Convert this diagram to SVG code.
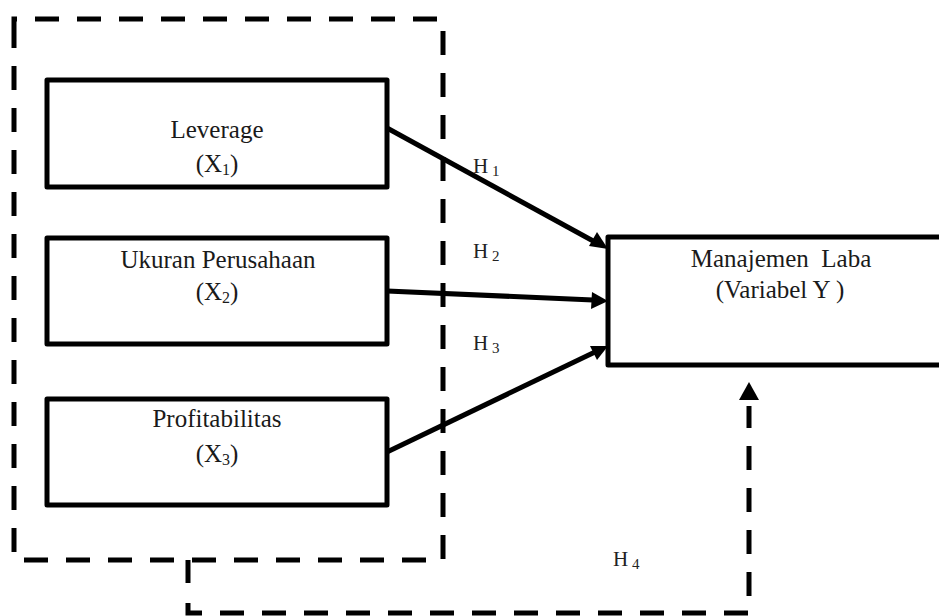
<svg xmlns="http://www.w3.org/2000/svg" width="939" height="616" viewBox="0 0 939 616">
<defs>
<style>
.box{fill:#fff;stroke:#000;stroke-width:5;stroke-linejoin:round}
.dash{fill:none;stroke:#000;stroke-width:5;stroke-dasharray:24 18}
.arr{fill:none;stroke:#000;stroke-width:5}
.t{font-family:"Liberation Serif","Times New Roman",serif;font-size:25px;fill:#1a1a1a;text-anchor:middle;white-space:pre}
.h{font-family:"Liberation Serif","Times New Roman",serif;font-size:21px;fill:#222}
.sub{font-size:16px}
.hs{font-size:15px}
</style>
</defs>
<rect width="939" height="616" fill="#fff"/>
<g id="group-box">
<path class="dash" d="M14,40 V19 H443 V560 H14 Z"/>
</g>
<g id="leverage">
<rect class="box" x="47" y="80" width="340" height="107"/>
<text class="t" x="217" y="138">Leverage</text>
<text class="t" x="217" y="172">(X<tspan class="sub" dy="3">1</tspan><tspan dy="-3">)</tspan></text>
</g>
<g id="ukuran">
<rect class="box" x="47" y="238" width="340" height="106"/>
<text class="t" x="218" y="268">Ukuran Perusahaan</text>
<text class="t" x="217" y="300">(X<tspan class="sub" dy="3">2</tspan><tspan dy="-3">)</tspan></text>
</g>
<g id="profitabilitas">
<rect class="box" x="47" y="399" width="340" height="106"/>
<text class="t" x="217" y="427">Profitabilitas</text>
<text class="t" x="217" y="462">(X<tspan class="sub" dy="3">3</tspan><tspan dy="-3">)</tspan></text>
</g>
<g id="manajemen">
<rect class="box" x="608" y="237" width="340" height="128"/>
<text class="t" x="781" y="267">Manajemen  Laba</text>
<text class="t" x="780" y="298">(Variabel Y )</text>
</g>
<g id="connectors">
<line x1="387" y1="128" x2="595" y2="242" class="arr"/>
<path d="M608,249 L589,246 L597,232 Z"/>
<line x1="387" y1="291" x2="593" y2="300" class="arr"/>
<path d="M608,301 L592,292 L591,309 Z"/>
<line x1="387" y1="452" x2="595" y2="352" class="arr"/>
<path d="M608,346 L597,360 L590,346 Z"/>
<path d="M188,560 V583" class="arr"/>
<path class="dash" d="M188,603 V613 H749 V406"/>
<path d="M749,382 L759,400 L739,400 Z"/>
</g>
<g id="labels">
<text class="h" x="473" y="173">H<tspan class="hs" dy="3"> 1</tspan></text>
<text class="h" x="473" y="258">H<tspan class="hs" dy="3"> 2</tspan></text>
<text class="h" x="473" y="350">H<tspan class="hs" dy="3"> 3</tspan></text>
<text class="h" x="613" y="566">H<tspan class="hs" dy="3"> 4</tspan></text>
</g>
</svg>
